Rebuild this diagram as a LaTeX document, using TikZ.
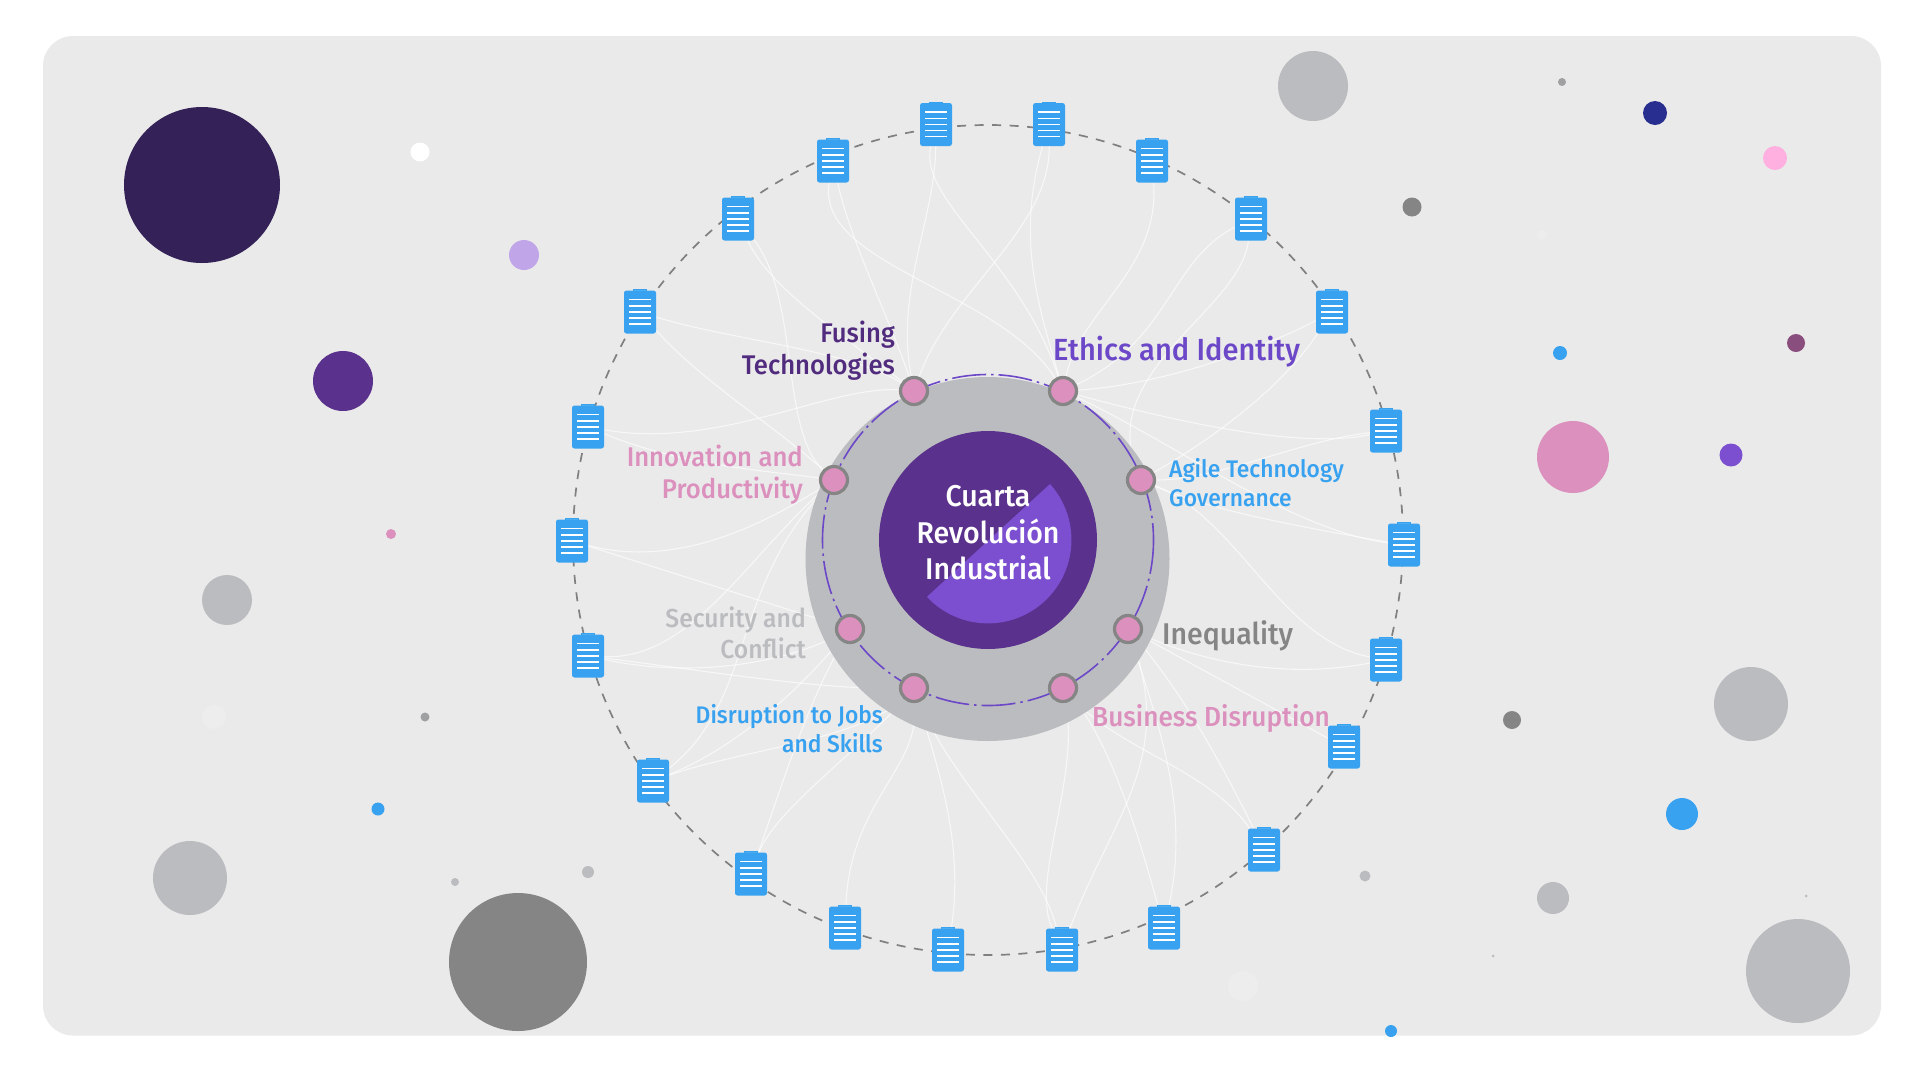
\documentclass[tikz,border=0pt]{standalone}
\usepackage{fontspec}
\setmainfont{Fira Sans}[UprightFont=* Medium, FakeStretch=0.95]
\usetikzlibrary{backgrounds}
\definecolor{panelgrey}{HTML}{EAEAEA}
\definecolor{softgrey}{HTML}{BBBCBF}
\definecolor{midgrey}{HTML}{858585}
\definecolor{ringgrey}{HTML}{808080}
\definecolor{deeppurple}{HTML}{5A318C}
\definecolor{nightpurple}{HTML}{332157}
\definecolor{brightpurple}{HTML}{7B4FD0}
\definecolor{orbitpurple}{HTML}{6C48C8}
\definecolor{rosepink}{HTML}{DB90BD}
\definecolor{skyblue}{HTML}{38A2F0}
\definecolor{tabblue}{HTML}{5AB2F2}
\definecolor{navyblue}{HTML}{272E8F}
\definecolor{babypink}{HTML}{FFB0E0}
\definecolor{plum}{HTML}{8A4E7E}
\definecolor{lilac}{HTML}{C0A5E8}
\tikzset{
  % Document icons on the outer ring
  clipboard/.style={rectangle, rounded corners=2.5pt, minimum width=32pt, minimum height=43pt, inner sep=0pt, fill=skyblue,
    path picture={
      \foreach \dy in {9pt,15.5pt,21.5pt,27.5pt,33.5pt}
        \draw[white, line width=1.4pt] ([xshift=5pt,yshift=-\dy]path picture bounding box.north west) -- ([xshift=-5pt,yshift=-\dy]path picture bounding box.north east);
    },
    append after command={\pgfextra{\draw[fill=tabblue, draw=skyblue, line width=0.6pt] ([xshift=-6.5pt,yshift=1pt]\tikzlastnode.north) rectangle ([xshift=6.5pt,yshift=-3.5pt]\tikzlastnode.north);}}},
  % Pink stops on the inner orbit
  hub/.style={circle, minimum size=27pt, inner sep=0pt, draw=midgrey, line width=3.2pt, fill=rosepink},
  % Connectors and rings
  link/.style={white, line width=1.1pt, opacity=0.65},
  outerring/.style={ringgrey, line width=1.7pt, dash pattern=on 9pt off 8.5pt},
  orbit/.style={orbitpurple, line width=1.6pt, dash pattern=on 34pt off 5pt on 2.5pt off 5pt},
  % Labels
  leftlabel/.style={anchor=east, align=right, inner sep=0pt, font=\fontsize{#1}{32}\selectfont},
  leftlabel/.default={27},
  rightlabel/.style={anchor=west, align=left, inner sep=0pt, font=\fontsize{#1}{29}\selectfont},
  rightlabel/.default={24},
}
\begin{document}
\begin{tikzpicture}[x=1pt, y=-1pt]
    \useasboundingbox (0,0) rectangle (1920,1080);

    % Central disc
    \fill[softgrey] (987.5,559) circle (182);
    \fill[deeppurple] (988,540) circle (109);
    \fill[brightpurple] (1050,484) arc[start angle=-42, end angle=137, radius=83.5] -- cycle;
    \draw[orbit] (988,540) circle (165.5);
    \node[white, align=center, inner sep=0pt, font=\fontsize{30}{36.5}\selectfont] (core) at (988,533) {Cuarta\\Revolución\\Industrial};

    % Orbit stops
    \node[hub] (nft) at (914,391) {};
    \node[hub] (net) at (1063,391) {};
    \node[hub] (nag) at (1141,480) {};
    \node[hub] (nin) at (1128,629) {};
    \node[hub] (nbd) at (1063,688) {};
    \node[hub] (ndj) at (914,688) {};
    \node[hub] (nsc) at (850,629) {};
    \node[hub] (nip) at (834,480) {};

    % Documents
    \node[clipboard] (c1) at (936,124.5) {};
    \node[clipboard] (c2) at (1049,124.5) {};
    \node[clipboard] (c3) at (1152,161) {};
    \node[clipboard] (c4) at (1251,219) {};
    \node[clipboard] (c5) at (1332,312) {};
    \node[clipboard] (c6) at (1386,431) {};
    \node[clipboard] (c7) at (1404,545) {};
    \node[clipboard] (c8) at (1386,660) {};
    \node[clipboard] (c9) at (1344,747) {};
    \node[clipboard] (c10) at (1264,850) {};
    \node[clipboard] (c11) at (1164,928) {};
    \node[clipboard] (c12) at (1062,950) {};
    \node[clipboard] (c13) at (948,950) {};
    \node[clipboard] (c14) at (845,928) {};
    \node[clipboard] (c15) at (751,874) {};
    \node[clipboard] (c16) at (653,781) {};
    \node[clipboard] (c17) at (588,656) {};
    \node[clipboard] (c18) at (572,541) {};
    \node[clipboard] (c19) at (588,427) {};
    \node[clipboard] (c20) at (640,312) {};
    \node[clipboard] (c21) at (738,219) {};
    \node[clipboard] (c22) at (833,161) {};

    % Labels
    \node[leftlabel, text=deeppurple!90!black] (lft) at (895,351) {Fusing\\Technologies};
    \node[rightlabel=30.6, text=orbitpurple] (let) at (1053,352) {Ethics and Identity};
    \node[rightlabel, text=skyblue] (lag) at (1169,483) {Agile Technology\\Governance};
    \node[rightlabel=30, text=midgrey] (lin) at (1162,636) {Inequality};
    \node[rightlabel=27.6, text=rosepink] (lbd) at (1092,718) {Business Disruption};
    \node[leftlabel=24, text=skyblue] (ldj) at (883,729) {Disruption to Jobs\\[-3pt]and Skills};
    \node[leftlabel=26, text=softgrey] (lsc) at (806,633) {Security and\\[-1pt]Conflict};
    \node[leftlabel, text=rosepink] (lip) at (803,475) {Innovation and\\Productivity};

    \begin{scope}[on background layer]
      % Panel
      \fill[white] (0,0) rectangle (1920,1080);
      \fill[panelgrey, rounded corners=30pt] (43,36) rectangle (1881,1035.5);

      % Loose circles, left side
      \fill[nightpurple] (202,185) circle (78);
      \fill[white] (420,152) circle (9.5);
      \fill[lilac] (524,255) circle (15);
      \fill[deeppurple] (343,381) circle (30);
      \fill[rosepink] (391,534) circle (5);
      \fill[softgrey] (227,600) circle (25);
      \fill[panelgrey!85!white] (214,717) circle (12);
      \fill[softgrey!85!black] (425,717) circle (4.5);
      \fill[skyblue] (378,809) circle (6.5);
      \fill[softgrey] (190,878) circle (37);
      \fill[softgrey] (455,882) circle (4);
      \fill[softgrey] (588,872) circle (6);
      \fill[midgrey] (518,962) circle (69);

      % Loose circles, right side
      \fill[softgrey] (1313,86) circle (35);
      \fill[softgrey!85!black] (1562,82) circle (4);
      \fill[navyblue] (1655,113) circle (12);
      \fill[babypink] (1775,158) circle (12);
      \fill[midgrey] (1412,207) circle (9.5);
      \fill[panelgrey!85!white] (1542,235) circle (5);
      \fill[plum] (1796,343) circle (9);
      \fill[skyblue] (1560,353) circle (7);
      \fill[rosepink] (1573,457) circle (36);
      \fill[brightpurple] (1731,455) circle (11.5);
      \fill[softgrey] (1751,704) circle (37);
      \fill[midgrey] (1512,720) circle (9);
      \fill[skyblue] (1682,814) circle (16);
      \fill[softgrey] (1553,898) circle (16);
      \fill[softgrey] (1798,971) circle (52);
      \fill[softgrey] (1365,876) circle (5.5);
      \fill[panelgrey!85!white] (1243,986) circle (15);
      \fill[skyblue] (1391,1031) circle (6);
      \fill[softgrey] (1493,956) circle (1.5);
      \fill[softgrey] (1806,896) circle (1.5);

      % Outer ring
      \draw[outerring] (988,540) circle (415);

      % Connectors
      \draw[link] (c1) .. controls (935,220) and (895,290) .. (nft);
      \draw[link] (c1) .. controls (918,200) and (1020,260) .. (net);
      \draw[link] (c2) .. controls (1050,230) and (950,290) .. (nft);
      \draw[link] (c2) .. controls (1015,240) and (1040,310) .. (net);
      \draw[link] (c3) .. controls (1160,270) and (1080,310) .. (net);
      \draw[link] (c4) .. controls (1170,260) and (1170,340) .. (net);
      \draw[link] (c4) .. controls (1240,310) and (1100,370) .. (nag);
      \draw[link] (c5) .. controls (1260,350) and (1160,385) .. (net);
      \draw[link] (c5) .. controls (1280,390) and (1210,440) .. (nag);
      \draw[link] (c6) .. controls (1300,450) and (1170,420) .. (net);
      \draw[link] (c6) .. controls (1300,440) and (1220,480) .. (nag);
      \draw[link] (c7) .. controls (1290,530) and (1170,440) .. (net);
      \draw[link] (c7) .. controls (1290,525) and (1210,510) .. (nag);
      \draw[link] (c8) .. controls (1280,640) and (1240,520) .. (nag);
      \draw[link] (c8) .. controls (1280,680) and (1200,660) .. (nin);
      \draw[link] (c9) -- (nin);
      \draw[link] (c10) .. controls (1220,760) and (1180,690) .. (nin);
      \draw[link] (c10) .. controls (1210,770) and (1120,750) .. (nbd);
      \draw[link] (c11) .. controls (1190,810) and (1160,730) .. (nin);
      \draw[link] (c11) .. controls (1140,840) and (1110,740) .. (nbd);
      \draw[link] (c12) .. controls (1110,820) and (1175,760) .. (nin);
      \draw[link] (c12) .. controls (1030,880) and (1080,780) .. (nbd);
      \draw[link] (c12) .. controls (1040,860) and (950,780) .. (ndj);
      \draw[link] (c13) .. controls (965,840) and (935,760) .. (ndj);
      \draw[link] (c14) .. controls (850,800) and (920,770) .. (ndj);
      \draw[link] (c15) .. controls (790,760) and (810,700) .. (nsc);
      \draw[link] (c15) .. controls (775,810) and (860,750) .. (ndj);
      \draw[link] (c16) .. controls (755,700) and (730,590) .. (nip);
      \draw[link] (c16) .. controls (730,750) and (790,700) .. (nsc);
      \draw[link] (c16) .. controls (740,750) and (860,740) .. (ndj);
      \draw[link] (c17) .. controls (690,660) and (745,560) .. (nip);
      \draw[link] (c17) .. controls (700,680) and (790,660) .. (nsc);
      \draw[link] (c17) .. controls (700,670) and (820,690) .. (ndj);
      \draw[link] (c18) .. controls (680,570) and (770,520) .. (nip);
      \draw[link] (c18) -- (nsc);
      \draw[link] (c19) .. controls (720,450) and (830,385) .. (nft);
      \draw[link] (c19) .. controls (680,465) and (760,470) .. (nip);
      \draw[link] (c20) .. controls (730,340) and (850,350) .. (nft);
      \draw[link] (c20) .. controls (700,380) and (780,430) .. (nip);
      \draw[link] (c21) .. controls (770,290) and (850,340) .. (nft);
      \draw[link] (c21) .. controls (800,300) and (780,430) .. (nip);
      \draw[link] (c22) .. controls (850,240) and (890,320) .. (nft);
      \draw[link] (c22) .. controls (815,265) and (1000,290) .. (net);
    \end{scope}
\end{tikzpicture}
\end{document}
